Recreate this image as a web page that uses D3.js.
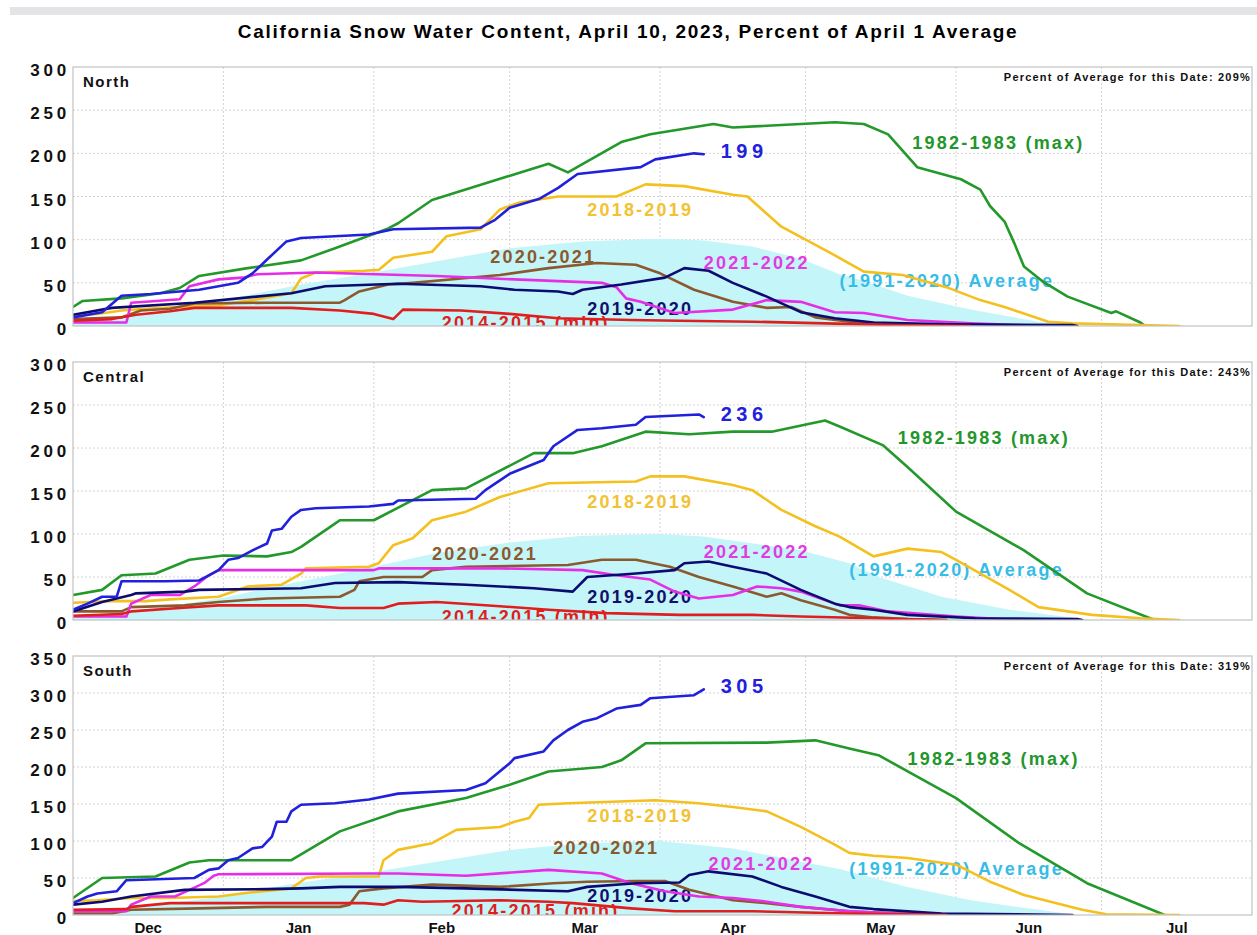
<!DOCTYPE html>
<meta charset="utf-8">
<script src="https://cdn.jsdelivr.net/npm/d3@7/dist/d3.min.js"></script>
<style>
    body { margin: 0; background: #fff; }
    svg text { font-family: "Liberation Sans", Arial, Helvetica, sans-serif; font-weight: bold; }
    .grid line { stroke: #d2d2d2; stroke-width: 1; stroke-dasharray: 2,2; }
    .frame { fill: none; stroke: #c2c2c2; stroke-width: 1.2; }
    .series { fill: none; stroke-width: 2.6; stroke-linejoin: round; stroke-linecap: round; }
</style>
<body>
<script>
    // season runs Dec 1 2022 -> Aug 1 2023; points are [days since Dec 1, percent of Apr 1 average]
    const seasonStart = new Date(2022, 11, 1);
    const seasonEnd = new Date(2023, 7, 1);
    const title = "California Snow Water Content, April 10, 2023, Percent of April 1 Average";
    const monthLabels = ["Dec", "Jan", "Feb", "Mar", "Apr", "May", "Jun", "Jul"];
    const regions = ["North", "Central", "South"];
    const regionTop = [300, 300, 350];
    const percentForDate = ["209%", "243%", "319%"];
    const currentLabel = ["199", "236", "305"];
    const seriesLabels = ["(1991-2020) Average", "1982-1983 (max)", "2018-2019", "2020-2021", "2021-2022", "2019-2020", "2014-2015 (min)"];

    // North
    const northAvg = [[0,5],[15,15],[31,30],[47,48],[62,62],[75,75],[90,90],[105,98],[121,101],[130,99],[140,92],[150,78],[158,60],[163,52],[172,35],[185,19],[199,5],[206,0]];
    const north1983 = [[0,22],[2,29],[10,32],[18,38],[22,44],[26,58],[36,67],[47,76],[54,90],[65,113],[67,119],[74,146],[98,188],[102,178],[113,213],[119,222],[132,234],[136,230],[157,236],[163,234],[168,222],[174,184],[183,170],[187,158],[189,139],[192,121],[194,96],[196,69],[200,51],[205,34],[214,15],[215,17],[220,4],[221,0]];
    const north2019 = [[0,12],[5,14],[10,18],[15,20],[22,22],[30,24],[37,30],[45,38],[47,55],[50,62],[60,64],[63,65],[66,79],[74,86],[77,104],[84,112],[88,135],[92,143],[100,150],[112,150],[118,164],[126,162],[136,152],[139,150],[146,115],[156,85],[163,63],[171,59],[180,45],[187,30],[192,22],[201,5],[206,3],[228,0]];
    const north2021 = [[0,8],[10,10],[14,18],[20,20],[25,26],[40,27],[55,27],[56,30],[59,40],[65,48],[70,50],[80,55],[88,59],[98,67],[108,73],[116,71],[121,61],[128,42],[136,28],[143,21],[148,22],[153,10],[160,5],[170,2],[185,0]];
    const north2022 = [[0,4],[11,4],[12,27],[15,28],[22,31],[24,46],[30,54],[35,56],[38,60],[50,62],[75,58],[91,54],[109,50],[112,45],[114,32],[117,28],[124,15],[136,19],[143,30],[150,28],[157,16],[163,15],[172,7],[185,3],[195,1],[200,0]];
    const north2020 = [[0,13],[8,21],[25,27],[45,38],[52,46],[67,49],[84,46],[91,42],[100,40],[103,37],[105,42],[113,48],[122,56],[126,67],[131,64],[136,50],[143,34],[150,16],[157,9],[165,4],[180,2],[206,1],[207,0]];
    const north2015 = [[0,6],[8,8],[13,13],[20,17],[25,21],[45,21],[55,18],[62,14],[66,8],[68,19],[80,18],[90,14],[100,9],[115,7],[125,6],[140,5],[155,3],[170,1],[185,0]];
    const north2023 = [[0,10],[6,16],[10,35],[16,37],[26,42],[34,50],[37,61],[40,77],[44,98],[47,102],[61,106],[66,112],[84,114],[87,123],[90,137],[96,147],[100,160],[104,176],[117,184],[120,193],[128,200],[130,199]];

    // Central
    const centralAvg = [[0,4],[15,12],[31,26],[47,45],[62,62],[75,78],[90,90],[105,98],[121,100],[130,97],[150,81],[160,66],[166,50],[179,27],[193,12],[207,2],[210,0]];
    const central1983 = [[0,29],[6,35],[10,52],[17,54],[24,70],[31,75],[40,74],[45,79],[47,85],[54,112],[55,116],[62,116],[74,151],[81,153],[95,194],[103,194],[109,202],[118,219],[127,216],[136,219],[144,219],[155,232],[158,225],[167,203],[172,178],[182,126],[196,81],[209,31],[222,2],[223,0]];
    const central2019 = [[0,20],[8,22],[15,22],[20,24],[30,27],[36,39],[43,41],[47,54],[48,60],[61,62],[63,66],[66,87],[70,95],[74,116],[81,126],[88,143],[98,159],[116,161],[119,167],[126,167],[136,157],[140,151],[146,128],[153,109],[158,97],[165,74],[172,83],[179,79],[182,70],[193,35],[199,15],[210,6],[220,2],[228,0]];
    const central2021 = [[0,10],[10,10],[12,15],[23,17],[30,21],[40,25],[55,27],[58,35],[59,45],[64,50],[72,50],[74,58],[81,62],[102,64],[109,70],[116,70],[123,62],[129,50],[136,39],[143,27],[146,31],[150,23],[157,12],[160,6],[165,3],[172,1],[180,0]];
    const central2022 = [[0,4],[11,4],[12,19],[16,29],[22,29],[25,39],[28,52],[30,58],[62,58],[63,60],[88,60],[105,58],[112,52],[119,47],[124,33],[129,25],[136,29],[141,39],[146,37],[150,33],[158,17],[162,17],[168,10],[182,4],[195,0]];
    const central2020 = [[0,10],[6,21],[12,29],[13,31],[23,33],[26,35],[47,37],[54,43],[67,44],[81,41],[95,37],[103,33],[106,50],[116,54],[124,58],[126,66],[131,68],[136,62],[143,54],[150,35],[157,19],[160,15],[165,12],[172,6],[186,2],[207,1],[208,0]];
    const central2015 = [[0,5],[10,7],[12,10],[22,14],[30,17],[48,17],[55,14],[64,14],[67,19],[75,21],[88,16],[98,12],[110,8],[125,6],[140,6],[150,4],[165,2],[180,0]];
    const central2023 = [[0,12],[3,19],[6,27],[9,27],[10,45],[19,45],[26,46],[28,52],[30,58],[32,70],[34,72],[37,81],[40,89],[41,104],[43,106],[45,120],[47,128],[50,130],[61,132],[66,135],[67,139],[83,141],[85,151],[90,170],[97,186],[99,202],[104,221],[109,223],[116,227],[118,236],[129,239],[130,236]];

    // South
    const southAvg = [[0,4],[15,12],[31,25],[45,42],[62,58],[75,72],[90,88],[105,97],[121,100],[136,90],[150,72],[158,62],[172,38],[185,20],[199,7],[207,0]];
    const south1983 = [[0,23],[6,50],[17,52],[24,71],[28,74],[45,74],[55,113],[67,140],[81,158],[90,176],[98,194],[109,200],[113,209],[118,232],[143,233],[153,236],[160,225],[166,216],[182,158],[195,97],[209,43],[225,0]];
    const south2019 = [[0,19],[5,20],[12,23],[20,23],[30,25],[36,30],[45,36],[48,50],[51,52],[63,52],[64,74],[67,88],[74,97],[79,115],[88,119],[91,126],[94,131],[96,149],[102,151],[120,155],[129,151],[136,146],[143,140],[150,119],[157,95],[160,84],[165,80],[172,77],[182,68],[189,45],[196,27],[208,7],[213,1],[228,0]];
    const south2021 = [[0,2],[8,2],[12,7],[26,9],[40,11],[55,11],[57,14],[59,32],[64,36],[68,38],[74,41],[88,38],[99,43],[106,45],[116,46],[122,46],[127,34],[136,20],[143,16],[150,11],[160,5],[170,2],[180,0]];
    const south2022 = [[0,5],[11,5],[12,14],[16,25],[21,25],[24,34],[27,43],[29,53],[30,55],[60,56],[67,56],[81,53],[98,61],[109,56],[115,43],[122,32],[129,25],[136,23],[143,18],[150,11],[160,5],[170,2],[195,0]];
    const south2020 = [[0,14],[6,18],[12,25],[23,34],[40,35],[47,36],[55,38],[67,38],[81,36],[102,32],[106,38],[116,43],[125,44],[127,54],[131,59],[140,52],[146,38],[153,25],[160,11],[165,8],[179,2],[206,0]];
    const south2015 = [[0,7],[11,8],[12,11],[20,16],[60,16],[64,14],[67,20],[72,18],[88,20],[98,18],[103,16],[115,9],[124,5],[140,5],[160,2],[180,0]];
    const south2023 = [[0,16],[3,25],[5,29],[9,32],[11,47],[25,50],[28,61],[30,63],[32,74],[34,77],[37,90],[39,92],[41,106],[42,126],[44,126],[45,140],[47,149],[54,151],[61,156],[67,164],[81,169],[85,178],[87,189],[90,205],[91,212],[97,221],[99,236],[102,250],[105,261],[108,266],[112,279],[117,284],[119,293],[128,297],[130,305]];

    // where each series label sits, in [day, percent], same order as seriesLabels
    const labelSpots = [
        [[158,53],[173,212],[106,135],[86,81],[130,73],[106,20],[76,4]],
        [[160,59],[170,212],[106,138],[74,77],[130,80],[106,27],[76,4]],
        [[160,63],[172,212],[106,135],[99,91],[131,69],[106,26],[78,6]]
    ];

    const panels = [
        [northAvg, north1983, north2019, north2021, north2022, north2020, north2015, north2023],
        [centralAvg, central1983, central2019, central2021, central2022, central2020, central2015, central2023],
        [southAvg, south1983, south2019, south2021, south2022, south2020, south2015, south2023]
    ];

    const lineColors = ["#c4f5f8", "#22992a", "#f4c01e", "#8a5a2e", "#e62ee6", "#0c0c70", "#e01e1e", "#2121dc"];
    const labelColors = ["#36bce6", "#23962b", "#f2c232", "#8a5a2e", "#e33be3", "#10106e", "#e01e1e"];
    const drawOrder = [1, 2, 3, 4, 5, 6, 7];

    const width = 1257, height = 935;
    const panelTop = [67, 362, 656], panelBottom = [326, 620, 915];
    const left = 73, right = 1252;

    const svg = d3.select("body").append("svg")
        .attr("width", width)
        .attr("height", height);

    svg.append("rect")
        .attr("x", 10).attr("y", 7)
        .attr("width", width - 10).attr("height", 8)
        .attr("fill", "#e4e4e7");

    svg.append("text")
        .attr("x", 628).attr("y", 38)
        .attr("text-anchor", "middle")
        .style("font-size", "19px")
        .style("letter-spacing", "1.7px")
        .text(title);

    const x = d3.scaleTime().domain([seasonStart, seasonEnd]).range([left, right]);
    const dayX = d => x(d3.timeDay.offset(seasonStart, d));
    const monthStarts = d3.timeMonth.range(seasonStart, seasonEnd);

    regions.forEach(function (name, i) {
        const y = d3.scaleLinear().domain([0, regionTop[i]]).range([panelBottom[i], panelTop[i]]);
        const g = svg.append("g");

        g.append("clipPath").attr("id", "clip" + i)
            .append("rect")
            .attr("x", left).attr("y", panelTop[i])
            .attr("width", right - left).attr("height", panelBottom[i] - panelTop[i]);

        // grid
        const grid = g.append("g").attr("class", "grid");
        grid.selectAll(".h").data(d3.range(50, regionTop[i], 50)).enter().append("line")
            .attr("x1", left).attr("x2", right)
            .attr("y1", d => y(d)).attr("y2", d => y(d));
        grid.selectAll(".v").data(monthStarts.slice(1)).enter().append("line")
            .attr("x1", d => x(d)).attr("x2", d => x(d))
            .attr("y1", panelTop[i]).attr("y2", panelBottom[i]);

        const plot = g.append("g").attr("clip-path", "url(#clip" + i + ")");

        // average area
        const area = d3.area()
            .x(d => dayX(d[0]))
            .y0(y(0))
            .y1(d => y(d[1]));
        plot.append("path")
            .datum(panels[i][0])
            .attr("d", area)
            .attr("fill", lineColors[0]);

        // series labels (drawn under the lines)
        plot.selectAll(".lbl").data(seriesLabels).enter().append("text")
            .attr("x", (d, k) => dayX(labelSpots[i][k][0]))
            .attr("y", (d, k) => y(labelSpots[i][k][1]))
            .attr("dy", "0.36em")
            .attr("fill", (d, k) => labelColors[k])
            .style("font-size", "18px")
            .style("letter-spacing", "2.2px")
            .text(d => d);

        const line = d3.line()
            .x(d => dayX(d[0]))
            .y(d => y(d[1]));

        drawOrder.forEach(function (k) {
            plot.append("path")
                .datum(panels[i][k])
                .attr("class", "series")
                .attr("stroke", lineColors[k])
                .attr("d", line);
        });

        // current value label
        const cur = panels[i][7];
        const last = cur[cur.length - 1];
        g.append("text")
            .attr("x", dayX(last[0]) + 17)
            .attr("y", y(last[1]))
            .attr("dy", "0.18em")
            .attr("fill", lineColors[7])
            .style("font-size", "20px")
            .style("letter-spacing", "4.5px")
            .text(currentLabel[i]);

        g.append("rect")
            .attr("class", "frame")
            .attr("x", left).attr("y", panelTop[i])
            .attr("width", right - left).attr("height", panelBottom[i] - panelTop[i]);

        // y axis
        const axis = d3.axisLeft(y)
            .tickValues(d3.range(0, regionTop[i] + 1, 50))
            .tickSize(0)
            .tickPadding(3);
        const ax = g.append("g").attr("transform", "translate(" + left + ",0)").call(axis);
        ax.select(".domain").remove();
        ax.selectAll("text")
            .attr("dy", "0.5em")
            .attr("fill", "#111")
            .style("font-family", '"Liberation Sans", Arial, sans-serif')
            .style("font-weight", "bold")
            .style("font-size", "17px")
            .style("letter-spacing", "3.8px");

        g.append("text")
            .attr("x", left + 10).attr("y", panelTop[i] + 20)
            .attr("fill", "#111")
            .style("font-size", "15px")
            .style("letter-spacing", "1.5px")
            .text(name);

        g.append("text")
            .attr("x", right - 1).attr("y", panelTop[i] + 14)
            .attr("text-anchor", "end")
            .attr("fill", "#111")
            .style("font-size", "11px")
            .style("letter-spacing", "1.2px")
            .text("Percent of Average for this Date: " + percentForDate[i]);
    });

    // month labels under the last panel
    svg.append("g").selectAll("text").data(monthStarts).enter().append("text")
        .attr("x", d => (x(d) + x(d3.timeMonth.offset(d, 1))) / 2)
        .attr("y", 933)
        .attr("text-anchor", "middle")
        .attr("fill", "#111")
        .style("font-size", "15px")
        .text((d, k) => monthLabels[k]);
</script>
</body>
</html>
